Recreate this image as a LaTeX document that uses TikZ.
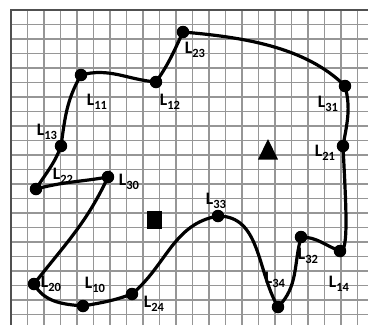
\documentclass[tikz,border=0pt]{standalone}
\usepackage{fontspec}
\setmainfont{Carlito}
\newcommand\lbl[1]{L\raisebox{-4pt}{\fontsize{12.5}{12.5}\selectfont #1}}
\tikzset{
  gridline/.style={draw={rgb,255:red,150;green,150;blue,150}, line width=1.3pt},
  borderline/.style={draw={rgb,255:red,80;green,80;blue,80}, line width=1.3pt},
  dot/.style={circle, fill=black, inner sep=0pt, minimum size=12.5pt},
  curve/.style={draw=black, line width=3.2pt, line join=round, line cap=round},
  lab/.style={font=\fontsize{17.5}{17.5}\selectfont\bfseries, inner sep=0pt},
}
\begin{document}
\begin{tikzpicture}[x=1pt,y=1pt]
\useasboundingbox (0,0) rectangle (368,-325);
\fill[white] (0,0) rectangle (368,-325);
% grid
\foreach \k in {0,...,21} {
  \draw[gridline] ({11+16.5*\k},-10) -- ({11+16.5*\k},-325);
  \draw[gridline] (11,{-10-14.5*\k}) -- (368,{-10-14.5*\k});
}
\draw[borderline] (11,-325) -- (11,-10) -- (368,-10);
% curve
\coordinate (L23) at (183,-32);
\coordinate (L31) at (345,-86);
\coordinate (L21) at (343,-146);
\coordinate (L14) at (340,-251);
\coordinate (L32) at (301,-237);
\coordinate (L34) at (278,-307);
\coordinate (L33) at (218,-216);
\coordinate (L24) at (132,-294);
\coordinate (L10) at (83,-306);
\coordinate (L20) at (34,-284);
\coordinate (L30) at (108,-177);
\coordinate (L22) at (36,-189);
\coordinate (L13) at (61,-146);
\coordinate (L11) at (81,-75);
\coordinate (L12) at (156,-82);
\draw[curve] (L23) to[out=-5,in=135,looseness=0.85] (L31)
  to[out=-75,in=80] (L21)
  .. controls +(3,-60) and +(9,-2) .. (L14)
  to[out=160,in=0] (L32)
  to[out=-105,in=45] (L34)
  to[out=120,in=0] (L33)
  to[out=190,in=40] (L24)
  to[out=200,in=10] (L10)
  to[out=175,in=-60] (L20)
  to[out=52,in=-115] (L30)
  to[out=190,in=15] (L22)
  to[out=58,in=-110] (L13)
  to[out=82,in=-120] (L11)
  to[out=15,in=175] (L12)
  to[out=55,in=-115] (L23);
% dots
\foreach \n in {L23,L31,L21,L14,L32,L34,L33,L24,L10,L20,L30,L22,L13,L11,L12}
  \node[dot] at (\n) {};
% shapes
\node[fill=black, minimum width=15pt, minimum height=18pt, inner sep=0pt] (sq) at (154.5,-219.5) {};
\fill (258,-159.5) -- (268,-139) -- (278,-159.5) -- cycle;
% labels
\node[lab] (t23) at (195,-50) {\lbl{23}};
\node[lab] (t11) at (97,-102) {\lbl{11}};
\node[lab] (t12) at (170,-102) {\lbl{12}};
\node[lab] (t13) at (47,-132) {\lbl{13}};
\node[lab] (t31) at (328,-104) {\lbl{31}};
\node[lab] (t21) at (325,-153) {\lbl{21}};
\node[lab] (t22) at (63,-176) {\lbl{22}};
\node[lab] (t30) at (129,-182) {\lbl{30}};
\node[lab] (t20) at (51,-284) {\lbl{20}};
\node[lab] (t10) at (95,-285) {\lbl{10}};
\node[lab] (t24) at (154,-304) {\lbl{24}};
\node[lab] (t33) at (216,-201) {\lbl{33}};
\node[lab] (t34) at (275,-280) {\lbl{34}};
\node[lab] (t32) at (308,-256) {\lbl{32}};
\node[lab] (t14) at (339,-284) {\lbl{14}};
\end{tikzpicture}
\end{document}
